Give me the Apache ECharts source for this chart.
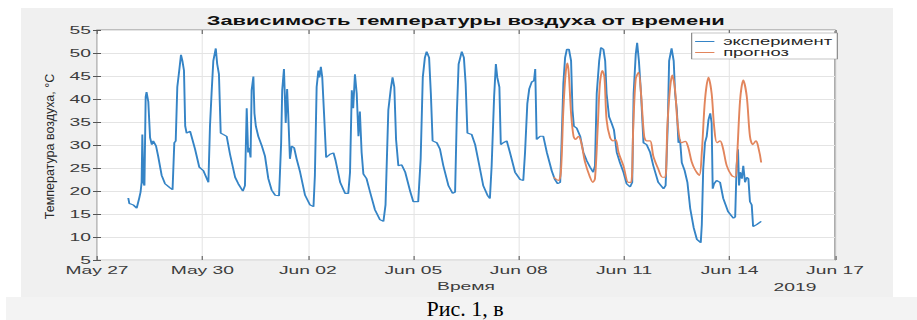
<!DOCTYPE html>
<html>
<head>
<meta charset="utf-8">
<script src="https://cdn.jsdelivr.net/npm/echarts@6/dist/echarts.min.js"></script>
<style>
  body { margin: 0; width: 917px; height: 320px; background: #fff; position: relative; overflow: hidden; }
  /* the source figure is stretched sideways, so the chart is drawn narrow and scaled in x */
  #fig { position: absolute; left: 21px; top: 8px; width: 498px; height: 289px; transform: scaleX(1.751); transform-origin: 0 0; }
  #caption { position: absolute; left: 6px; top: 297px; width: 904px; padding-left: 7px; height: 23px; background: #f3f3f3;
             font: 22px "Liberation Serif", serif; line-height: 23px; text-align: center; color: #000; }
</style>
</head>
<body>
<div id="fig"></div>
<div id="caption">Рис. 1, в</div>
<script>
const S = 872 / 498;

const titleText = "Зависимость температуры воздуха от времени";
const yName = "Температура воздуха, °С";
const xName = "Время";
const yearLabel = "2019";
const seriesNames = ["эксперимент", "прогноз"];

// x ticks every 3 days, x = days since May 27 00:00
const xTickLabels = ["May 27", "May 30", "Jun 02", "Jun 05", "Jun 08", "Jun 11", "Jun 14", "Jun 17"];

// [day, °C]
const experiment = [
  [0.89,18.5],[0.92,17.3],[1.03,17.0],[1.13,16.3],[1.20,18.4],[1.24,19.8],[1.27,21.9],[1.29,32.3],[1.32,21.9],[1.35,21.2],
  [1.385,40.5],[1.41,41.5],[1.46,39.4],[1.51,31.6],[1.56,30.1],[1.60,30.9],[1.68,29.8],[1.74,27.6],[1.84,23.4],[1.935,21.6],
  [2.08,20.7],[2.15,20.3],[2.20,30.5],[2.24,30.9],[2.285,42.6],[2.34,46.2],[2.39,49.6],[2.43,48.3],[2.475,46.2],[2.51,34.1],
  [2.55,32.6],[2.65,33.0],[2.69,31.9],[2.79,29.1],[2.91,25.2],[3.03,24.4],[3.17,21.9],[3.215,34.1],[3.26,41.2],[3.31,48.3],
  [3.38,51.0],[3.42,47.6],[3.47,45.4],[3.52,32.6],[3.59,32.3],[3.69,31.9],[3.785,28.0],[3.93,23.0],[4.02,21.6],[4.15,20.0],
  [4.21,21.2],[4.26,38.0],[4.30,28.4],[4.33,29.4],[4.37,27.3],[4.40,41.9],[4.45,44.9],[4.48,36.9],[4.52,34.1],[4.59,31.9],
  [4.69,29.8],[4.78,27.6],[4.875,22.7],[4.97,20.2],[5.07,19.1],[5.18,19.0],[5.24,30.5],[5.27,41.9],[5.32,46.5],[5.37,34.8],
  [5.41,42.2],[5.44,36.9],[5.49,27.0],[5.54,29.8],[5.61,29.4],[5.68,27.0],[5.78,24.1],[5.92,19.1],[6.06,17.0],[6.16,16.6],
  [6.20,23.4],[6.25,42.6],[6.30,46.2],[6.33,44.7],[6.37,47.0],[6.41,44.7],[6.46,36.9],[6.52,27.3],[6.63,28.0],[6.73,28.3],
  [6.79,26.6],[6.92,21.9],[7.06,19.5],[7.15,19.5],[7.20,24.1],[7.25,41.9],[7.29,38.0],[7.34,45.4],[7.39,41.2],[7.44,31.9],
  [7.48,37.3],[7.53,28.4],[7.58,23.7],[7.67,22.7],[7.77,19.8],[7.91,15.9],[8.05,13.8],[8.15,13.4],[8.21,17.0],[8.29,37.6],
  [8.36,42.2],[8.41,44.7],[8.46,42.6],[8.51,31.2],[8.575,25.5],[8.67,25.7],[8.77,24.1],[8.91,20.0],[9.00,17.7],[9.14,17.7],
  [9.21,27.0],[9.27,44.7],[9.33,49.0],[9.38,50.3],[9.45,49.0],[9.50,41.2],[9.55,30.9],[9.67,30.5],[9.76,29.1],[9.855,25.5],
  [10.00,21.2],[10.12,19.5],[10.19,19.8],[10.24,36.9],[10.29,47.6],[10.38,50.3],[10.44,49.0],[10.49,43.3],[10.54,32.6],[10.66,32.3],
  [10.76,30.1],[10.88,25.5],[10.99,21.2],[11.11,19.1],[11.18,18.4],[11.23,25.5],[11.30,40.5],[11.35,47.6],[11.39,44.7],[11.45,42.6],
  [11.49,30.1],[11.56,30.5],[11.66,30.9],[11.75,28.4],[11.895,24.1],[12.04,22.5],[12.13,22.3],[12.18,28.4],[12.245,39.0],[12.30,42.2],
  [12.37,43.7],[12.435,44.0],[12.47,46.5],[12.51,31.2],[12.61,31.9],[12.70,31.9],[12.80,28.4],[12.94,24.4],[13.03,22.5],[13.11,21.6],
  [13.18,21.9],[13.22,30.5],[13.27,43.3],[13.32,49.0],[13.37,50.8],[13.43,50.8],[13.49,48.3],[13.53,37.6],[13.57,34.1],[13.65,33.7],
  [13.75,31.9],[13.84,28.4],[13.935,26.6],[14.03,25.2],[14.12,24.1],[14.17,25.5],[14.22,41.2],[14.29,48.3],[14.34,51.2],[14.41,50.8],
  [14.46,48.3],[14.50,41.2],[14.57,36.2],[14.65,34.6],[14.71,33.3],[14.79,28.4],[14.88,26.2],[14.98,24.1],[15.07,21.6],[15.17,20.9],
  [15.23,21.9],[15.27,41.2],[15.33,49.7],[15.37,52.2],[15.42,48.3],[15.48,41.2],[15.55,30.5],[15.64,30.1],[15.74,28.4],[15.83,25.5],
  [15.97,21.9],[16.12,20.5],[16.18,21.2],[16.24,34.1],[16.28,48.3],[16.35,51.0],[16.41,48.3],[16.45,41.2],[16.50,37.6],[16.545,30.5],
  [16.59,31.2],[16.64,26.2],[16.72,24.5],[16.80,21.9],[16.88,16.2],[16.98,12.0],[17.07,9.5],[17.18,8.8],[17.21,12.7],[17.25,24.8],
  [17.30,30.5],[17.35,31.9],[17.40,35.5],[17.45,36.9],[17.49,34.8],[17.52,20.5],[17.56,21.6],[17.63,22.3],[17.73,21.9],[17.82,18.4],
  [17.96,15.5],[18.11,14.1],[18.16,14.4],[18.20,25.5],[18.24,29.1],[18.27,21.2],[18.30,24.1],[18.35,22.7],[18.39,25.5],[18.44,21.9],
  [18.49,23.0],[18.535,22.7],[18.58,17.7],[18.63,17.0],[18.67,12.3],[18.77,12.7],[18.90,13.4]
];

const forecast = [
  [12.99,23.0],[13.13,22.3],[13.20,24.1],[13.27,37.6],[13.34,46.0],[13.39,47.8],[13.43,45.0],[13.49,36.9],[13.56,31.9],[13.62,31.2],
  [13.70,31.9],[13.78,30.5],[13.89,26.2],[14.03,23.0],[14.11,21.9],[14.17,22.7],[14.25,34.1],[14.31,43.3],[14.38,46.2],[14.44,44.7],
  [14.50,35.5],[14.60,31.6],[14.69,30.9],[14.76,31.2],[14.84,28.4],[14.98,25.5],[15.12,21.9],[15.20,21.9],[15.26,34.1],[15.33,44.4],
  [15.41,45.8],[15.48,41.2],[15.57,31.9],[15.64,30.9],[15.74,30.9],[15.83,27.6],[15.97,24.8],[16.09,23.0],[16.17,23.0],[16.23,34.1],
  [16.31,42.6],[16.37,45.2],[16.45,41.9],[16.52,34.8],[16.63,30.5],[16.74,30.8],[16.82,29.6],[16.92,26.4],[17.02,24.6],[17.14,23.4],
  [17.21,28.4],[17.30,39.8],[17.40,44.7],[17.49,41.2],[17.56,34.1],[17.64,30.5],[17.73,30.9],[17.81,29.4],[17.92,25.5],[18.06,23.4],
  [18.16,23.0],[18.22,28.4],[18.30,39.8],[18.39,44.1],[18.49,40.5],[18.58,31.9],[18.66,30.1],[18.75,30.9],[18.81,29.8],[18.90,26.2]
];

const font = "Liberation Sans";
const tickColor = "#3c3c3c";
const frameColor = "#8c8c8c";
const gridColor = "#e4e4e4";
const blue = "#3584c6";
const orange = "#e2855c";

const chart = echarts.init(document.getElementById("fig"), null, { renderer: "svg" });

const sideAxis = (pos, isX) => ({
  type: "value",
  position: pos,
  min: isX ? 0 : 5,
  max: isX ? 21 : 55,
  interval: isX ? 3 : 5,
  axisLine: { show: false },
  axisTick: { inside: true, length: isX ? 4 : 4 / S, lineStyle: { color: "#555", width: isX ? 0.6 : 1 } },
  axisLabel: { show: false },
  splitLine: { show: false }
});

const option = {
  backgroundColor: "#f0f0f0",
  animation: false,
  title: {
    text: titleText,
    left: 254,
    top: 6,
    textAlign: "center",
    padding: 0,
    textStyle: { fontFamily: font, fontSize: 12.5, fontWeight: "bold", color: "#111" }
  },
  grid: {
    left: 76 / S,
    right: 58 / S,
    top: 22,
    bottom: 33,
    show: true,
    backgroundColor: "#fff",
    borderColor: frameColor,
    borderWidth: 0.8
  },
  legend: {
    orient: "vertical",
    left: 383,
    top: 25,
    padding: [3, 3, 1, 2],
    icon: "rect",
    itemWidth: 11,
    itemHeight: 1,
    itemGap: 0,
    backgroundColor: "#fff",
    borderColor: frameColor,
    borderWidth: 0.7,
    textStyle: { fontFamily: font, fontSize: 10.5, lineHeight: 11, color: "#262626" },
    data: seriesNames
  },
  xAxis: [
    {
      type: "value",
      position: "bottom",
      min: 0,
      max: 21,
      interval: 3,
      axisLine: { show: false },
      axisTick: { inside: true, length: 4, lineStyle: { color: "#555", width: 0.6 } },
      splitLine: { show: true, lineStyle: { color: gridColor, width: 0.6 } },
      axisLabel: {
        margin: 5,
        fontFamily: font,
        fontSize: 11,
        color: tickColor,
        showMinLabel: true,
        showMaxLabel: true,
        formatter: (v) => xTickLabels[Math.round(v / 3)]
      },
      name: xName,
      nameLocation: "middle",
      nameGap: 18,
      nameTextStyle: { fontFamily: font, fontSize: 11, color: tickColor }
    },
    sideAxis("top", true)
  ],
  yAxis: [
    {
      type: "value",
      position: "left",
      min: 5,
      max: 55,
      interval: 5,
      axisLine: { show: false },
      axisTick: { inside: true, length: 4 / S, lineStyle: { color: "#555", width: 1 } },
      splitLine: { show: true, lineStyle: { color: gridColor, width: 1 } },
      axisLabel: { margin: 3.5, fontFamily: font, fontSize: 11, color: tickColor, showMinLabel: true, showMaxLabel: true }
    },
    sideAxis("right", false)
  ],
  graphic: [
    {
      // y name drawn upright-scaled so it is not stretched like the rest
      type: "text",
      x: 29 / S,
      y: 138.5,
      rotation: Math.PI / 2,
      scaleY: 1 / S,
      style: { text: yName, fontFamily: font, fontSize: 12.5, fill: "#2a2a2a", align: "center", verticalAlign: "middle" }
    },
    {
      type: "text",
      x: (795 - 21) / S,
      y: 279.5,
      style: { text: yearLabel, fontFamily: font, fontSize: 11, fill: tickColor, align: "center", verticalAlign: "middle" }
    }
  ],
  series: [
    {
      name: seriesNames[0],
      type: "line",
      data: experiment,
      symbol: "none",
      lineStyle: { color: blue, width: 1.1 },
      itemStyle: { color: blue }
    },
    {
      name: seriesNames[1],
      type: "line",
      data: forecast,
      symbol: "none",
      smooth: 0.3,
      lineStyle: { color: orange, width: 1.1 },
      itemStyle: { color: orange }
    }
  ]
};

chart.setOption(option);
</script>
</body>
</html>
